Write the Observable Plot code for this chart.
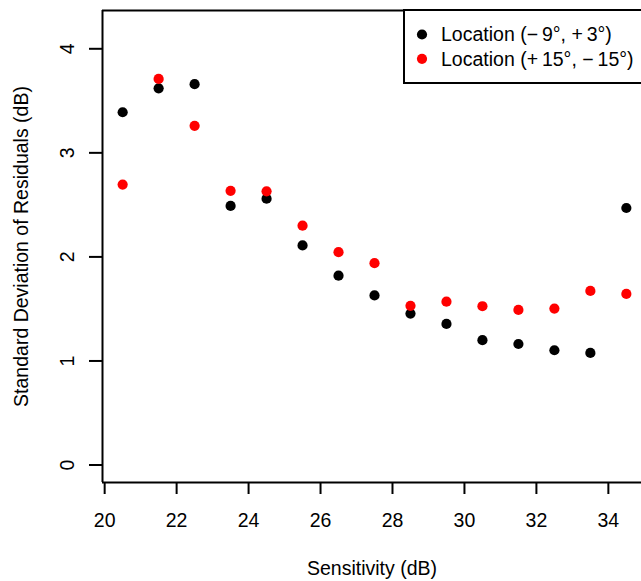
<!DOCTYPE html>
<html>
<head>
<meta charset="utf-8">
<script src="https://cdn.jsdelivr.net/npm/d3@7"></script>
<script src="https://cdn.jsdelivr.net/npm/@observablehq/plot@0.6"></script>
<style>
  html, body { margin: 0; padding: 0; background: #fff; }
  svg { display: block; font-family: "Liberation Sans", Arial, sans-serif; }
</style>
</head>
<body>
<div id="chart"></div>
<script>
const sensitivity = [20.5, 21.5, 22.5, 23.5, 24.5, 25.5, 26.5, 27.5, 28.5, 29.5, 30.5, 31.5, 32.5, 33.5, 34.5];
const sdLocA = [3.39, 3.62, 3.66, 2.49, 2.56, 2.11, 1.82, 1.63, 1.455, 1.356, 1.20, 1.163, 1.103, 1.077, 2.47];
const sdLocB = [2.695, 3.71, 3.26, 2.635, 2.63, 2.30, 2.045, 1.94, 1.53, 1.57, 1.526, 1.49, 1.503, 1.673, 1.644];
const seriesNames = ["Location (\u2212\u20099\u00b0, +\u20093\u00b0)", "Location (+\u200915\u00b0, \u2212\u200915\u00b0)"];
const seriesColors = ["#000000", "#ff0000"];
const xTicks = [20, 22, 24, 26, 28, 30, 32, 34];
const yTicks = [0, 1, 2, 3, 4];
const xLabel = "Sensitivity (dB)";
const yLabel = "Standard Deviation of Residuals (dB)";

const xDomain = [19.94, 35.06];
const yDomain = [-0.168, 4.368];

const data = [];
sensitivity.forEach((s, i) => {
  data.push({x: s, y: sdLocA[i], series: seriesNames[0]});
  data.push({x: s, y: sdLocB[i], series: seriesNames[1]});
});

const W = 641, H = 581;
const mL = 102, mT = 10, mB = 99;
const fs = 19.5;
const dotR = 5.1;

const plot = Plot.plot({
  width: W,
  height: H,
  marginLeft: mL,
  marginRight: 0,
  marginTop: mT,
  marginBottom: mB,
  style: {fontFamily: '"Liberation Sans", Arial, sans-serif', fontSize: fs + "px", background: "#fff"},
  x: {domain: xDomain, range: [mL, 646]},
  y: {domain: yDomain, range: [H - mB, mT]},
  color: {domain: seriesNames, range: seriesColors},
  marks: [
    Plot.ruleX([xDomain[0]], {stroke: "#000", strokeWidth: 2}),
    Plot.ruleY([yDomain[0], yDomain[1]], {stroke: "#000", strokeWidth: 2}),
    Plot.axisX({ticks: xTicks, tickSize: 12, tickPadding: 19, strokeWidth: 2, fontSize: fs, label: null, tickFormat: d => String(d), stroke: "#000", fill: "#000"}),
    Plot.axisY({ticks: yTicks, tickSize: 13, strokeWidth: 2, label: null, tickFormat: () => "", stroke: "#000"}),
    Plot.text(yTicks, {y: d => d, text: d => String(d), frameAnchor: "left", dx: -35, rotate: -90, textAnchor: "middle", lineAnchor: "middle", fontSize: fs, fill: "#000"}),
    Plot.text([xLabel], {text: d => d, frameAnchor: "bottom", dy: 86, textAnchor: "middle", lineAnchor: "middle", fontSize: fs, fill: "#000"}),
    Plot.text([yLabel], {text: d => d, frameAnchor: "left", dx: -81, rotate: -90, textAnchor: "middle", lineAnchor: "middle", fontSize: fs, fill: "#000"}),
    Plot.dot(data, {x: "x", y: "y", fill: "series", r: dotR, stroke: "none"})
  ]
});

document.getElementById("chart").appendChild(plot);

// Legend (top-right, R style box)
const svg = d3.select(plot);
const lg = svg.append("g").attr("text-anchor", "start");
lg.append("rect").attr("x", 404).attr("y", 10).attr("width", 300).attr("height", 73)
  .attr("fill", "#fff").attr("stroke", "#000").attr("stroke-width", 2);
const rowsY = [34.5, 58.8];
seriesNames.forEach((name, i) => {
  lg.append("circle").attr("cx", 422).attr("cy", rowsY[i]).attr("r", dotR).attr("fill", seriesColors[i]);
  lg.append("text").attr("x", 441).attr("y", rowsY[i]).attr("dy", "0.35em")
    .attr("text-anchor", "start").attr("font-size", fs).attr("fill", "#000").text(name);
});
</script>
</body>
</html>
